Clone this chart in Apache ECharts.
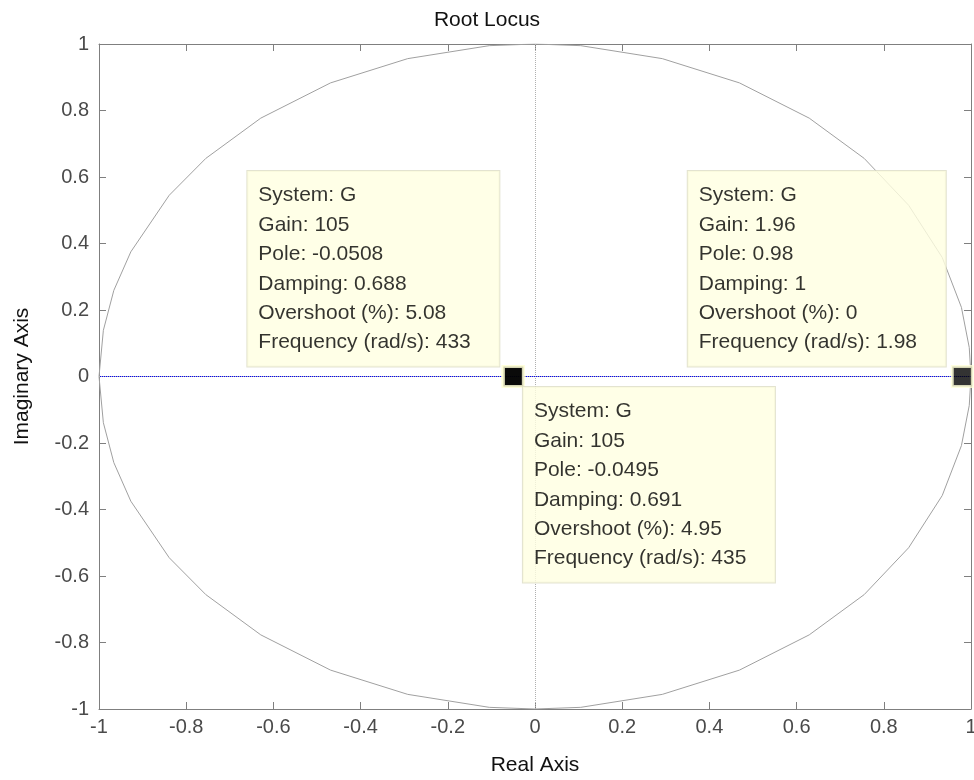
<!DOCTYPE html>
<html>
<head>
<meta charset="utf-8">
<script src="https://cdn.jsdelivr.net/npm/echarts@6/dist/echarts.min.js"></script>
<style>html,body{margin:0;padding:0;background:#fff}#c{width:974px;height:780px}</style>
</head>
<body>
<div id="c"></div>
<script>
// ---- data ----
const axisTicks = [-1, -0.8, -0.6, -0.4, -0.2, 0, 0.2, 0.4, 0.6, 0.8, 1];
// unit-circle trace (real, imag)
const circleRe = [1, 0.996, 0.978, 0.934, 0.857, 0.755, 0.629, 0.469, 0.292, 0.105, 0,
  -0.105, -0.292, -0.469, -0.629, -0.755, -0.839, -0.927, -0.966, -0.990, -1,
  -0.990, -0.966, -0.927, -0.839, -0.755, -0.629, -0.469, -0.292, -0.105, 0,
  0.105, 0.292, 0.469, 0.629, 0.755, 0.857, 0.934, 0.978, 0.996, 1];
const circleIm = [0, 0.087, 0.208, 0.358, 0.515, 0.656, 0.777, 0.883, 0.956, 0.995, 1,
  0.995, 0.956, 0.883, 0.777, 0.656, 0.545, 0.375, 0.259, 0.139, 0,
  -0.139, -0.259, -0.375, -0.545, -0.656, -0.777, -0.883, -0.956, -0.995, -1,
  -0.995, -0.956, -0.883, -0.777, -0.656, -0.515, -0.358, -0.208, -0.087, 0];
// root locus branch on the real axis
const locusRe = [-1, 1];
const locusIm = [0, 0];
// data tips
const tipPole = [-0.0508, -0.0495, 0.98];
const tipGain = ['105', '105', '1.96'];
const tipDamping = ['0.688', '0.691', '1'];
const tipOvershoot = ['5.08', '4.95', '0'];
const tipFrequency = ['433', '435', '1.98'];
const tipSystem = 'G';

const chart = echarts.init(document.getElementById('c'), null, {renderer: 'canvas'});

const fontFam = 'Liberation Sans, Arial, Helvetica, sans-serif';
const axisColor = '#7f7f7f';
const labelColor = '#4a4a4a';

function tipText(i) {
  return [
    'System: ' + tipSystem,
    'Gain: ' + tipGain[i],
    'Pole: ' + tipPole[i],
    'Damping: ' + tipDamping[i],
    'Overshoot (%): ' + tipOvershoot[i],
    'Frequency (rad/s): ' + tipFrequency[i]
  ].join('\n');
}

// placement of each tip box relative to its marker (box top-left offset)
const tipPlacement = [
  {position: [-254, -194], width: 231},
  {position: [21, 22], width: 231},
  {position: [-263, -194], width: 237}
];

const tipSeries = tipPole.map((p, i) => ({
  type: 'scatter',
  z: 5,
  symbol: 'rect',
  symbolSize: 20,
  itemStyle: {color: '#000', borderColor: '#ffffd8', borderWidth: 3},
  data: [[p, 0]],
  silent: true,
  label: {
    show: true,
    formatter: () => tipText(i),
    position: tipPlacement[i].position,
    align: 'left',
    verticalAlign: 'top',
    width: tipPlacement[i].width,
    overflow: 'none',
    fontFamily: fontFam,
    fontSize: 21,
    lineHeight: 29.4,
    color: '#000',
    backgroundColor: '#ffffe1',
    borderColor: '#dcdcc4',
    borderWidth: 1,
    padding: [10, 10, 9, 11]
  }
}));

function fmt(v) {
  const r = Math.round(v * 10) / 10;
  return (r === 0 ? 0 : r).toString();
}

const baseAxis = {
  type: 'value', min: -1, max: 1, interval: 0.2,
  splitLine: {show: false},
  axisLine: {show: true, onZero: false, lineStyle: {color: axisColor, width: 1}},
  axisTick: {show: true, inside: true, length: 7, lineStyle: {color: axisColor}},
  nameTextStyle: {fontFamily: fontFam, fontSize: 21, color: '#111'}
};

const option = {
  backgroundColor: '#fff',
  animation: false,
  title: {
    text: 'Root Locus', left: 'center', top: 5,
    textStyle: {fontFamily: fontFam, fontSize: 21, fontWeight: 'normal', color: '#111'}
  },
  grid: {left: 99, right: 3, top: 44, bottom: 71, containLabel: false, outerBoundsMode: 'none'},
  xAxis: [
    Object.assign({}, baseAxis, {
      position: 'bottom', name: 'Real Axis', nameLocation: 'middle', nameGap: 46,
      axisLabel: {show: true, margin: 8, fontFamily: fontFam, fontSize: 20, color: labelColor, formatter: fmt}
    }),
    Object.assign({}, baseAxis, {position: 'top', axisLabel: {show: false}})
  ],
  yAxis: [
    Object.assign({}, baseAxis, {
      position: 'left', name: 'Imaginary Axis', nameLocation: 'middle', nameGap: 66,
      axisLabel: {show: true, margin: 10, fontFamily: fontFam, fontSize: 20, color: labelColor, formatter: fmt}
    }),
    Object.assign({}, baseAxis, {position: 'right', axisLabel: {show: false}})
  ],
  series: [
    {
      type: 'line', z: 2, showSymbol: false, silent: true,
      data: circleRe.map((r, i) => [r, circleIm[i]]),
      lineStyle: {color: '#a0a0a0', width: 1},
      markLine: {
        silent: true, symbol: ['none', 'none'], label: {show: false},
        lineStyle: {color: '#b0b0b0', type: 'dotted', width: 1},
        data: [{xAxis: 0}, {yAxis: 0}]
      }
    },
    {
      type: 'line', z: 3, showSymbol: false, silent: true,
      data: locusRe.map((r, i) => [r, locusIm[i]]),
      lineStyle: {color: '#0000ff', width: 1}
    }
  ].concat(tipSeries)
};

chart.setOption(option);
</script>
</body>
</html>
